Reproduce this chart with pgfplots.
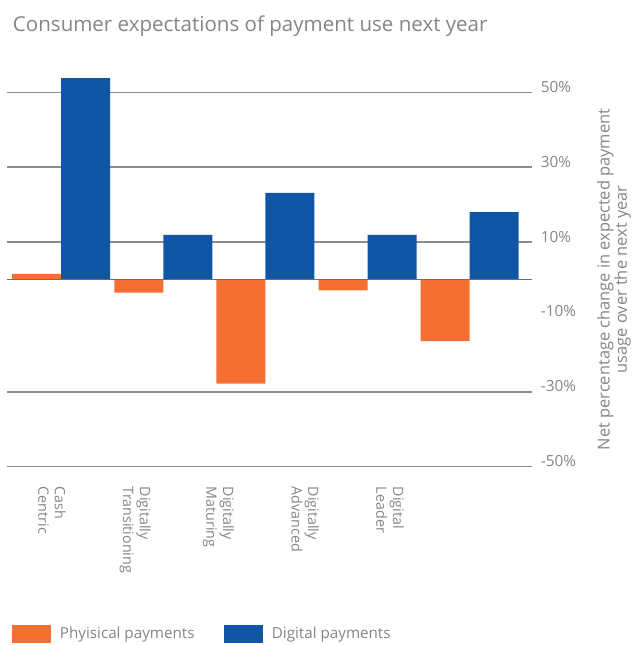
\documentclass[border=0pt]{standalone}
\usepackage{fontspec}
\setmainfont{Open Sans}
\usepackage{pgfplots}
\pgfplotsset{compat=1.18}
\definecolor{physorange}{HTML}{F37032}
\definecolor{digiblue}{HTML}{0F56A5}
\definecolor{txtgray}{HTML}{858585}
\definecolor{gridgray}{HTML}{8C8C8C}
\definecolor{zerogray}{HTML}{6E6E6E}

\begin{document}
\begin{tikzpicture}
\useasboundingbox (-5.25pt,-133.75pt) rectangle (470.25pt,350pt);
\node[anchor=base west, inner sep=0pt, font=\fontsize{15.4}{19}\selectfont, text=txtgray]
  at (4.3pt,326.25pt) {Consumer expectations of payment use next year};
\begin{axis}[
  at={(0,0)}, anchor=south west,
  scale only axis,
  width=393.75pt, height=280.8pt,
  ybar=0pt, bar width=36.75pt,
  xmin=-0.53, xmax=4.61,
  ymin=-50, ymax=50,
  clip=false,
  axis line style={draw=none},
  major tick length=0pt,
  xtick={-0.09,0.725,1.54,2.39,3.22},
  xticklabels={{Cash\\Centric},{Digitally\\Transitioning},{Digitally\\Maturing},{Digitally\\Advanced},{Digital\\Leader}},
  xticklabel shift=15pt,
  xticklabel style={rotate=-90, anchor=west, align=left, inner sep=0pt,
    font=\fontsize{10.7}{12.5}\selectfont, text=txtgray},
  yticklabel pos=right,
  ytick={-50,-30,-10,10,30,50},
  yticklabels={-50\%,-30\%,-10\%,10\%,30\%,50\%},
  yticklabel shift=6.5pt,
  yticklabel style={anchor=base west, inner sep=0pt,
    font=\fontsize{11.5}{13}\selectfont, text=txtgray},
  extra y ticks={-50,-30,10,30,50},
  extra y tick labels={},
  extra y tick style={grid=major, major grid style={draw=gridgray, line width=1.1pt}},
  ylabel={Net percentage change in expected payment\\usage over the next year},
  ylabel style={at={(rel axis cs:1.1562,0.5)}, anchor=center, align=center,
    font=\fontsize{12.3}{13}\selectfont, text=txtgray},
  legend columns=2,
  legend style={draw=none, fill=none, at={(0,0)}, anchor=west,
    xshift=0.75pt, yshift=-125.5pt,
    font=\fontsize{11.4}{13}\selectfont, text=txtgray,
    /tikz/every even column/.append style={column sep=20.25pt}},
  legend image code/.code={\draw[#1,draw=none] (0pt,-6.85pt) rectangle (29.25pt,6.85pt);
    \path (33.75pt,0pt);},
]
\addplot[fill=physorange, draw=none] coordinates {
  (0,1.5) (1,-3.5) (2,-27.8) (3,-2.9) (4,-16.5)
};
\addplot[fill=digiblue, draw=none] coordinates {
  (0,53.8) (1,11.9) (2,23.1) (3,11.9) (4,18.0)
};
\legend{Phyisical payments, Digital payments}
\draw[zerogray, line width=1.1pt] (rel axis cs:0,0.5) -- (rel axis cs:1,0.5);
\end{axis}
\end{tikzpicture}
\end{document}
